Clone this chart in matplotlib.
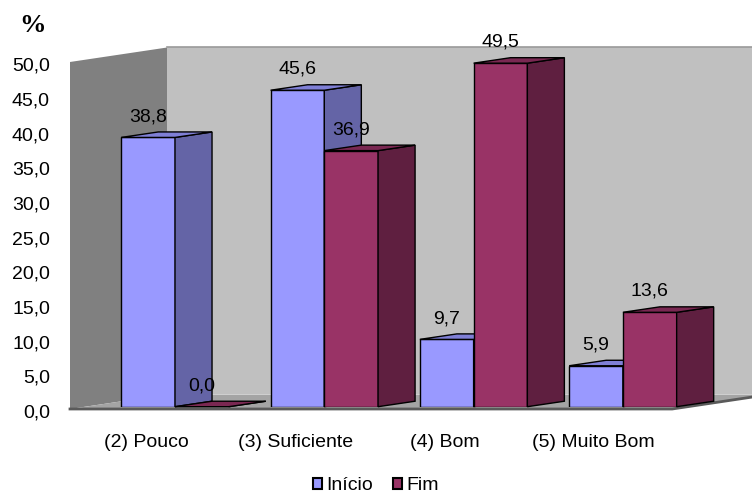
import numpy as np
import matplotlib.pyplot as plt
from matplotlib.patches import Polygon, Patch
from matplotlib.transforms import ScaledTranslation

plt.rcParams['font.family'] = ['Liberation Sans', 'DejaVu Sans']

categories = ['(2) Pouco', '(3) Suficiente', '(4) Bom', '(5) Muito Bom']
inicio = [38.8, 45.6, 9.7, 5.9]
fim = [0.0, 36.9, 49.5, 13.6]
y_ticks = [0, 5, 10, 15, 20, 25, 30, 35, 40, 45, 50]

# face colours: front, side, top
inicio_cols = ('#9999ff', '#6464a6', '#7f7fd6')
fim_cols = ('#993366', '#5f1f40', '#7a2852')

bar_w = 0.36          # front face width (category units)
bar_dx, bar_dy = 0.248, 0.79    # bar depth offset
wall_dx, wall_dy = 0.651, 2.09  # full depth of the walls
front_dy = -0.33      # front edge of floor sits slightly below the bars
x_left, x_right = -0.7033, 3.8647
floor_right = 3.33

fig = plt.figure(figsize=(7.52, 4.95), dpi=100)
ax = fig.add_axes([70 / 752, 88.3 / 495, 682 / 752, 347 / 495])
ax.set_xlim(x_left, x_right)
ax.set_ylim(0, 50)
ax.patch.set_visible(False)
for s in ax.spines.values():
    s.set_visible(False)

ytop = 50 + front_dy
# left wall
ax.add_patch(Polygon([(x_left, front_dy), (x_left, ytop),
                      (x_left + wall_dx, ytop + wall_dy),
                      (x_left + wall_dx, front_dy + wall_dy)],
                     closed=True, facecolor='#808080', edgecolor='none',
                     clip_on=False, zorder=0))
# back wall
ax.add_patch(Polygon([(x_left + wall_dx, front_dy + wall_dy),
                      (x_left + wall_dx, ytop + wall_dy),
                      (floor_right + wall_dx, ytop + wall_dy),
                      (floor_right + wall_dx, front_dy + wall_dy)],
                     closed=True, facecolor='#c0c0c0', edgecolor='none',
                     clip_on=False, zorder=0))
ax.plot([x_left + wall_dx, floor_right + wall_dx], [ytop + wall_dy] * 2,
        color='#9a9a9a', lw=1.2, clip_on=False, zorder=0.5)
# floor
ax.add_patch(Polygon([(x_left, front_dy), (floor_right, front_dy),
                      (floor_right + wall_dx, front_dy + wall_dy),
                      (x_left + wall_dx, front_dy + wall_dy)],
                     closed=True, facecolor='#a4a4a4', edgecolor='none',
                     clip_on=False, zorder=0.5))
ax.plot([x_left, floor_right, floor_right + wall_dx],
        [front_dy, front_dy, front_dy + wall_dy],
        color='#5a5a5a', lw=2, clip_on=False, zorder=0.6)


def bar3d(x0, h, cols, z):
    ax.bar(x0, h, width=bar_w, align='edge', color=cols[0],
           edgecolor='black', linewidth=1, zorder=z)
    side = [(x0 + bar_w, 0), (x0 + bar_w + bar_dx, bar_dy),
            (x0 + bar_w + bar_dx, h + bar_dy), (x0 + bar_w, h)]
    top = [(x0, h), (x0 + bar_w, h), (x0 + bar_w + bar_dx, h + bar_dy),
           (x0 + bar_dx, h + bar_dy)]
    ax.add_patch(Polygon(side, closed=True, facecolor=cols[1],
                         edgecolor='black', lw=1, zorder=z, clip_on=False))
    ax.add_patch(Polygon(top, closed=True, facecolor=cols[2],
                         edgecolor='black', lw=1, zorder=z, clip_on=False))
    ax.annotate('{:.1f}'.format(h).replace('.', ','), (x0 + bar_w / 2, h),
                xytext=(0, 15), textcoords='offset points',
                ha='center', va='center', fontsize=14, zorder=20)


x = np.arange(len(categories))
for i in range(len(categories)):
    bar3d(x[i] - bar_w, inicio[i], inicio_cols, 2 + 2 * i)
    bar3d(x[i], fim[i], fim_cols, 3 + 2 * i)

ax.set_yticks(y_ticks)
ax.set_yticklabels(['{:.1f}'.format(v).replace('.', ',') for v in y_ticks],
                   fontsize=14)
ax.tick_params(axis='y', length=0, pad=14.4)
for lab in ax.get_yticklabels():
    lab.set_transform(lab.get_transform()
                      + ScaledTranslation(0, -3.2 / 72, fig.dpi_scale_trans))

ax.set_xticks(x - 0.195)
ax.set_xticklabels(categories, fontsize=14)
ax.tick_params(axis='x', length=0, pad=20)

fig.text(33 / 752, 1 - 26 / 495, '%', ha='center', va='center',
         fontfamily='Liberation Serif', fontweight='bold', fontsize=19)

handles = [Patch(facecolor=inicio_cols[0], edgecolor='black', lw=1.5),
           Patch(facecolor=fim_cols[0], edgecolor='black', lw=1.5)]
fig.legend(handles, ['Início', 'Fim'], loc='center',
           bbox_to_anchor=(0.5, 9 / 495), ncol=2, frameon=False,
           fontsize=14, handlelength=0.45, handleheight=0.45,
           handletextpad=0.25, columnspacing=1.0)

fig.savefig('out.png', dpi=100)
